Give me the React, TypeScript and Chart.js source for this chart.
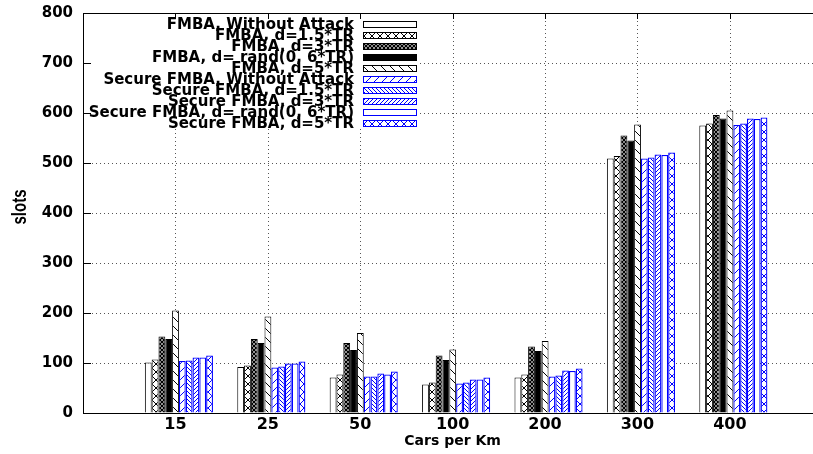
import React, { useEffect, useRef } from 'react';
import { Chart, registerables } from 'chart.js';

Chart.register(...registerables);

// ---------- data ----------
const categories = ['15', '25', '50', '100', '200', '300', '400'];
const seriesNames = [
  'FMBA, Without Attack',
  'FMBA, d=1.5*TR',
  'FMBA, d=3*TR',
  'FMBA, d= rand(0, 6*TR)',
  'FMBA, d=5*TR',
  'Secure FMBA, Without Attack',
  'Secure FMBA, d=1.5*TR',
  'Secure FMBA, d=3*TR',
  'Secure FMBA, d= rand(0, 6*TR)',
  'Secure FMBA, d=5*TR',
];
const fmbaNoAttack = [101, 92, 71, 57, 71, 509, 575];
const fmbaD15 = [107, 95, 77, 61, 77, 514, 579];
const fmbaD3 = [153, 148, 140, 115, 133, 555, 596];
const fmbaRand = [148, 140, 126, 106, 124, 545, 589];
const fmbaD5 = [205, 193, 160, 127, 144, 577, 605];
const secNoAttack = [104, 91, 73, 59, 73, 509, 576];
const secD15 = [105, 93, 73, 61, 75, 511, 579];
const secD3 = [111, 99, 79, 67, 85, 517, 589];
const secRand = [111, 99, 77, 67, 84, 516, 588];
const secD5 = [115, 103, 83, 71, 89, 521, 591];
const seriesValues = [fmbaNoAttack, fmbaD15, fmbaD3, fmbaRand, fmbaD5, secNoAttack, secD15, secD3, secRand, secD5];
const yMin = 0;
const yMax = 800;
const yStep = 100;
const xTitle = 'Cars per Km';
const yTitle = 'slots';

// ---------- styles ----------
const BLACK = '#000000';
const BLUE = '#0000ff';
type Kind = 'empty' | 'cross' | 'dense' | 'solid' | 'back' | 'slash' | 'backDense' | 'slashDense';
const seriesStyle: { kind: Kind; color: string }[] = [
  { kind: 'empty', color: BLACK },
  { kind: 'cross', color: BLACK },
  { kind: 'dense', color: BLACK },
  { kind: 'solid', color: BLACK },
  { kind: 'back', color: BLACK },
  { kind: 'slash', color: BLUE },
  { kind: 'backDense', color: BLUE },
  { kind: 'slashDense', color: BLUE },
  { kind: 'empty', color: BLUE },
  { kind: 'cross', color: BLUE },
];

function makeFill(kind: Kind, color: string): any {
  if (kind === 'empty') return '#ffffff';
  if (kind === 'solid') return color;
  const s = kind === 'dense' ? 4 : kind === 'backDense' || kind === 'slashDense' ? 4 : kind === 'back' ? 9 : 8;
  const c = document.createElement('canvas');
  c.width = s;
  c.height = s;
  const g = c.getContext('2d')!;
  g.fillStyle = '#ffffff';
  g.fillRect(0, 0, s, s);
  g.strokeStyle = color;
  g.lineWidth = kind === 'dense' ? 1.3 : 1;
  const slash = () => {
    g.beginPath();
    g.moveTo(-1, s + 1); g.lineTo(s + 1, -1);
    g.moveTo(-1, 1); g.lineTo(1, -1);
    g.moveTo(s - 1, s + 1); g.lineTo(s + 1, s - 1);
    g.stroke();
  };
  const back = () => {
    g.beginPath();
    g.moveTo(-1, -1); g.lineTo(s + 1, s + 1);
    g.moveTo(s - 1, -1); g.lineTo(s + 1, 1);
    g.moveTo(-1, s - 1); g.lineTo(1, s + 1);
    g.stroke();
  };
  if (kind === 'cross' || kind === 'dense') { slash(); back(); }
  else if (kind === 'slash' || kind === 'slashDense') slash();
  else back();
  return g.createPattern(c, 'repeat');
}

const FONT = '"DejaVu Sans", sans-serif';
const BAR_SHIFT = 0.038;
const X_MAX = categories.length + 0.9; // plot is cut off at the right edge, as in the original
const GRID_COLOR = '#555555';

export default function App() {
  const ref = useRef<HTMLCanvasElement>(null);

  useEffect(() => {
    if (!ref.current) return;
    const fills = seriesStyle.map((s) => makeFill(s.kind, s.color));

    const datasets = seriesValues.map((vals, k) => ({
      label: seriesNames[k],
      data: vals.map((v, i) => ({ x: i + 1, y: v })),
      backgroundColor: fills[k],
      borderColor: seriesStyle[k].color,
      borderWidth: seriesStyle[k].color === BLUE ? 1.3 : 1,
      categoryPercentage: 0.737,
      barPercentage: 1,
      xAxisID: 'x',
      yAxisID: 'y',
    }));

    const framePlugin = {
      id: 'frameAndLegend',
      beforeDatasetsDraw(chart: any) {
        // vertical dotted grid lines at the category ticks
        const { ctx, chartArea: a } = chart;
        const xs = chart.scales.xt;
        ctx.save();
        ctx.strokeStyle = GRID_COLOR;
        ctx.lineWidth = 1;
        ctx.setLineDash([1, 3]);
        ctx.beginPath();
        categories.forEach((_, i) => {
          const px = Math.round(xs.getPixelForValue(i + 1)) + 0.5;
          ctx.moveTo(px, a.top);
          ctx.lineTo(px, a.bottom);
        });
        ctx.stroke();
        ctx.restore();
      },
      afterDatasetsDraw(chart: any) {
        const { ctx, chartArea: a } = chart;
        ctx.save();
        // legend box
        ctx.fillStyle = '#ffffff';
        ctx.fillRect(a.left + 1, a.top + 1, 336, 114);
        ctx.font = `bold 15px ${FONT}`;
        ctx.textAlign = 'right';
        ctx.textBaseline = 'middle';
        seriesNames.forEach((name, k) => {
          const y = a.top + 11 + 11 * k;
          ctx.fillStyle = BLACK;
          ctx.fillText(name, a.left + 271, y + 1);
          ctx.fillStyle = fills[k];
          ctx.fillRect(a.left + 280, y - 3, 53, 6);
          ctx.strokeStyle = seriesStyle[k].color;
          ctx.lineWidth = 1;
          ctx.strokeRect(a.left + 280.5, y - 2.5, 53, 6);
        });
        // frame: top line + inward ticks
        ctx.strokeStyle = BLACK;
        ctx.lineWidth = 1;
        ctx.beginPath();
        ctx.moveTo(a.left, Math.round(a.top) + 0.5);
        ctx.lineTo(chart.width, Math.round(a.top) + 0.5);
        const ys = chart.scales.y;
        for (let v = yMin; v <= yMax; v += yStep) {
          const py = Math.round(ys.getPixelForValue(v)) + 0.5;
          ctx.moveTo(a.left, py);
          ctx.lineTo(a.left + 8, py);
        }
        const xs = chart.scales.xt;
        categories.forEach((_, i) => {
          const px = Math.round(xs.getPixelForValue(i + 1)) + 0.5;
          ctx.moveTo(px, a.top);
          ctx.lineTo(px, a.top + 6);
        });
        ctx.stroke();
        // x axis title, centred on the full (uncut) axis
        ctx.font = `bold 14px ${FONT}`;
        ctx.textAlign = 'center';
        ctx.textBaseline = 'middle';
        ctx.fillStyle = BLACK;
        ctx.fillText(xTitle, xs.getPixelForValue((categories.length + 1) / 2), a.bottom + 28);
        // y axis title (stretched, like the original output)
        ctx.save();
        ctx.translate(a.left - 63, (a.top + a.bottom) / 2 - 6);
        ctx.rotate(-Math.PI / 2);
        ctx.scale(1, 1.4);
        ctx.font = 'bold 15px "Liberation Sans", sans-serif';
        ctx.textAlign = 'center';
        ctx.textBaseline = 'middle';
        ctx.fillStyle = BLACK;
        ctx.fillText(yTitle, 0, 0);
        ctx.restore();
        ctx.restore();
      },
    };

    const chart = new Chart(ref.current, {
      type: 'bar',
      data: { datasets: datasets as any },
      options: {
        animation: false,
        responsive: true,
        maintainAspectRatio: false,
        layout: { padding: { top: 13, left: 0, right: 0, bottom: 0 } },
        plugins: { legend: { display: false }, tooltip: { enabled: false } },
        scales: {
          x: {
            type: 'linear',
            display: false,
            offset: false,
            min: 0 - BAR_SHIFT,
            max: X_MAX - BAR_SHIFT,
            ticks: { stepSize: 1, includeBounds: false },
            grid: { offset: false, display: false },
          },
          xt: {
            type: 'linear',
            position: 'bottom',
            offset: false,
            min: 0,
            max: X_MAX,
            afterFit: (s: any) => { s.height = 41; },
            ticks: {
              stepSize: 1,
              includeBounds: false,
              autoSkip: false,
              maxRotation: 0,
              padding: 2,
              color: BLACK,
              font: { family: FONT, weight: 'bold', size: 16 },
              callback: (v: any) => categories[Number(v) - 1] ?? '',
            },
            grid: {
              offset: false,
              display: false,
              drawTicks: false,
            },
            border: { display: true, color: BLACK, width: 1 },
          } as any,
          y: {
            type: 'linear',
            min: yMin,
            max: yMax,
            afterFit: (s: any) => { s.width = 83; },
            ticks: {
              stepSize: yStep,
              padding: 0,
              color: BLACK,
              font: { family: FONT, weight: 'bold', size: 15 },
            },
            grid: {
              color: GRID_COLOR,
              lineWidth: 1,
              drawTicks: true,
              tickLength: 10,
              tickColor: 'rgba(0,0,0,0)',
            },
            border: { display: true, color: BLACK, width: 1, dash: [1, 3] },
          } as any,
        },
      },
      plugins: [framePlugin],
    });

    return () => chart.destroy();
  }, []);

  return (
    <div style={{ position: 'fixed', left: 0, top: 0, width: 813, height: 454, background: '#fff' }}>
      <canvas ref={ref} />
    </div>
  );
}
